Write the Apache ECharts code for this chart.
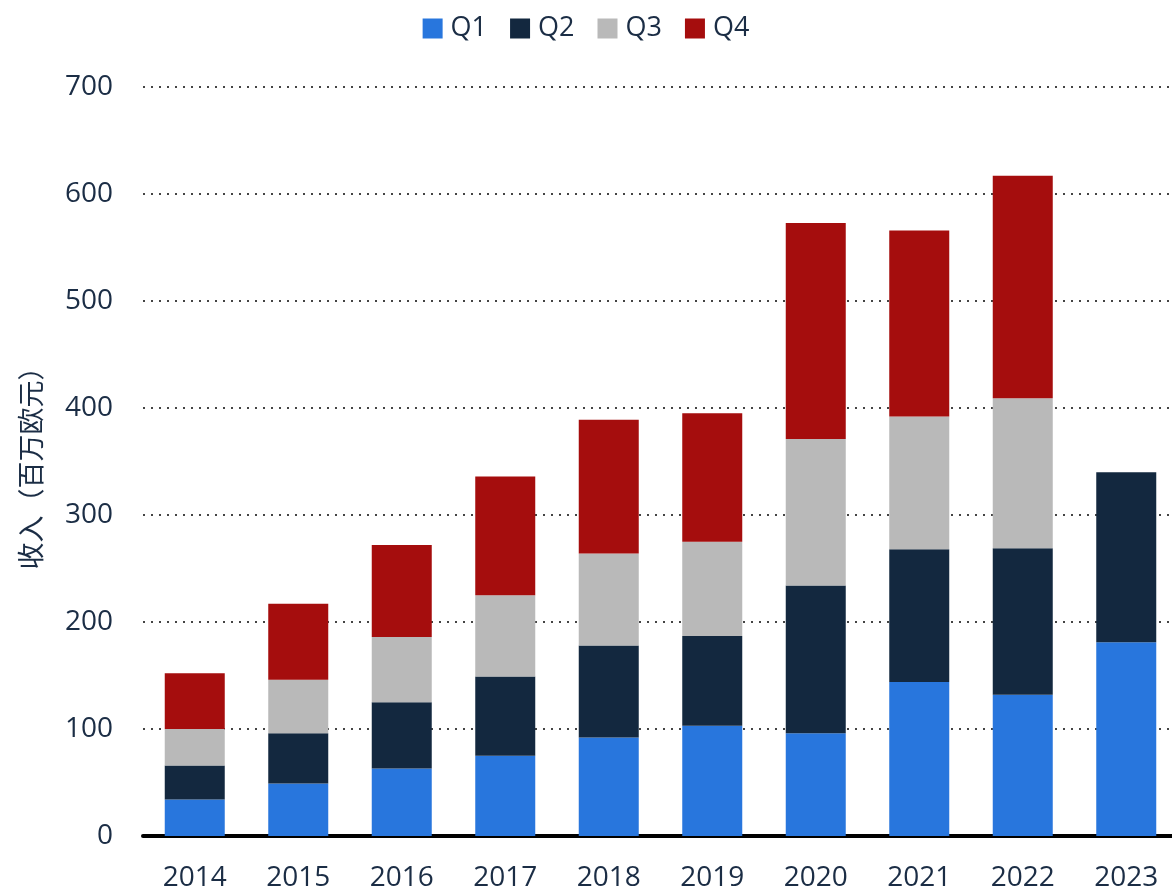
<!DOCTYPE html>
<html>
<head>
<meta charset="utf-8">
<script src="https://cdn.jsdelivr.net/npm/echarts@6/dist/echarts.min.js"></script>
<style>
  html, body { margin: 0; padding: 0; background: #fff; }
  #chart { width: 1172px; height: 895px; }
</style>
</head>
<body>
<div id="chart"></div>
<script>
/* quarterly revenue, stacked */
var years = ['2014', '2015', '2016', '2017', '2018', '2019', '2020', '2021', '2022', '2023'];
var q1 = [34, 49, 63, 75, 92, 103, 96, 144, 132, 181];
var q2 = [32, 47, 62, 74, 86, 84, 138, 124, 137, 159];
var q3 = [34, 50, 61, 76, 86, 88, 137, 124, 140, null];
var q4 = [52, 71, 86, 111, 125, 120, 202, 174, 208, null];
var seriesNames = ['Q1', 'Q2', 'Q3', 'Q4'];
var colors = ['#2876dd', '#13283f', '#b9b9b9', '#a50d0d'];

var font = '"Open Sans", "Noto Sans CJK SC", sans-serif';
var textColor = '#1b2d45';

var myChart = echarts.init(document.getElementById('chart'));

function bar(name, data, idx) {
    return {
        name: name,
        type: 'bar',
        stack: 'total',
        barWidth: 60,
        data: data,
        itemStyle: { color: colors[idx] }
    };
}

var option = {
    animation: false,
    textStyle: { fontFamily: font },
    legend: {
        top: 10,
        left: 'center',
        itemWidth: 20,
        itemHeight: 20,
        itemGap: 23,
        icon: 'rect',
        textStyle: { fontSize: 27, color: textColor, fontFamily: font, padding: [0, 0, 0, 3] },
        data: seriesNames
    },
    grid: {
        left: 143,
        top: 87,
        width: 1035,
        bottom: 59,
        outerBoundsMode: 'none'
    },
    xAxis: {
        type: 'category',
        data: years,
        axisLine: { lineStyle: { color: '#000', width: 4 } },
        axisTick: { show: false },
        axisLabel: { fontSize: 28, color: textColor, margin: 28, fontFamily: font }
    },
    yAxis: {
        type: 'value',
        min: 0,
        max: 700,
        interval: 100,
        name: '收入（百万欧元）',
        nameLocation: 'middle',
        nameGap: 96,
        nameTextStyle: { fontSize: 27, color: textColor, fontFamily: font },
        axisLine: { show: false },
        axisTick: { show: false },
        axisLabel: { fontSize: 28, color: textColor, margin: 30, fontFamily: font },
        splitLine: { lineStyle: { color: '#444', type: [2, 6], width: 2 } }
    },
    series: [
        bar('Q1', q1, 0),
        bar('Q2', q2, 1),
        bar('Q3', q3, 2),
        bar('Q4', q4, 3)
    ]
};

myChart.setOption(option);
</script>
</body>
</html>
